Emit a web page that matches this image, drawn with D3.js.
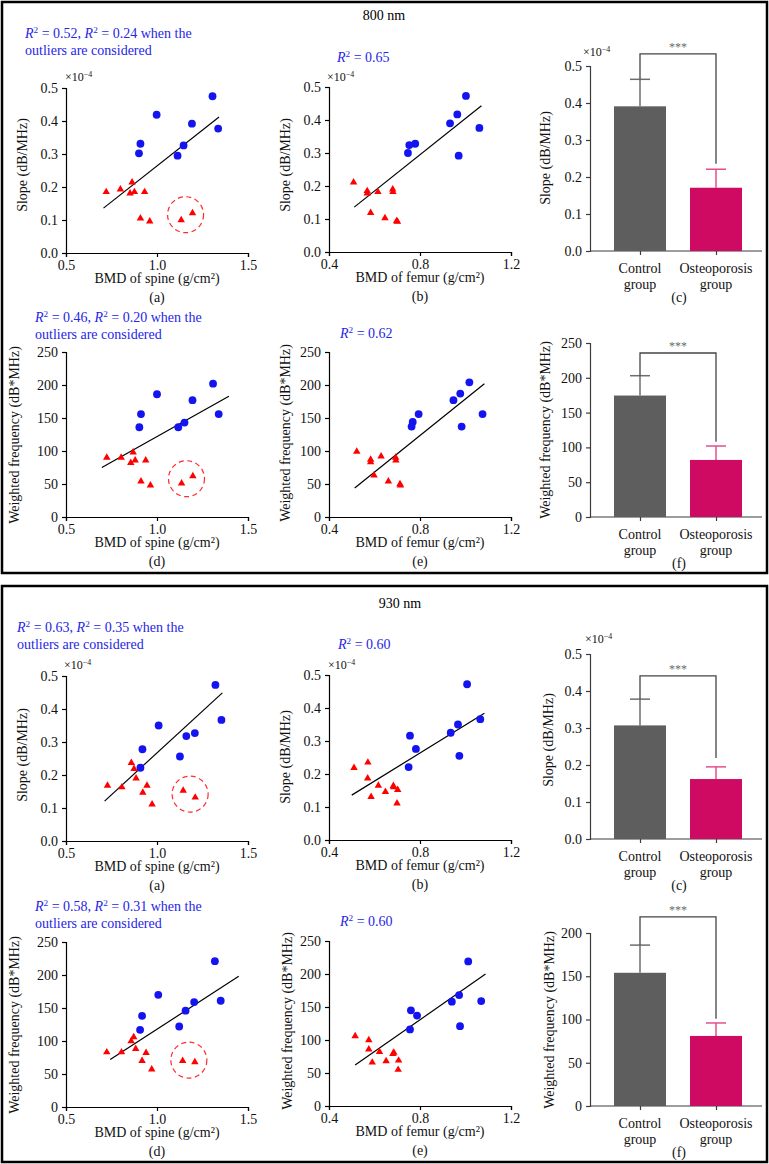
<!DOCTYPE html>
<html>
<head>
<meta charset="utf-8">
<script src="https://cdn.jsdelivr.net/npm/d3@7"></script>
<style>
body { margin: 0; background: #fff; }
svg text { font-family: "Liberation Serif", "Times New Roman", serif; }
</style>
</head>
<body>
<svg id="fig" width="769" height="1164"></svg>
<script>
// ---- values ----
// 800 nm
var spineSlope800Ctrl = [[1.305,0.475],[0.998,0.419],[1.192,0.392],[1.336,0.377],[0.909,0.331],[1.146,0.326],[0.901,0.302],[1.113,0.295]];
var spineSlope800Osteo = [[0.721,0.185],[0.799,0.193],[0.863,0.214],[0.852,0.181],[0.876,0.185],[0.932,0.185],[0.909,0.105],[0.960,0.096],[1.133,0.100],[1.195,0.121]];
var spineSlope800Fit = [[0.706,0.136],[1.341,0.412]];
var spineSlope800Outlier = [1.157,0.116];

var femurSlope800Ctrl = [[1.002,0.473],[0.964,0.417],[0.932,0.390],[1.061,0.376],[0.779,0.328],[0.753,0.324],[0.747,0.300],[0.970,0.292]];
var femurSlope800Osteo = [[0.508,0.211],[0.568,0.185],[0.568,0.178],[0.615,0.182],[0.680,0.190],[0.681,0.182],[0.583,0.119],[0.646,0.103],[0.697,0.094],[0.701,0.092]];
var femurSlope800Fit = [[0.511,0.136],[1.070,0.443]];

var spineFreq800Ctrl = [[1.308,202],[1.0,186],[1.195,177],[0.912,156],[1.339,156],[1.151,143],[0.903,136],[1.117,136]];
var spineFreq800Osteo = [[0.724,90],[0.803,90],[0.869,98],[0.856,82],[0.880,86],[0.938,86],[0.912,54],[0.964,48],[1.135,51],[1.197,62]];
var spineFreq800Fit = [[0.697,75],[1.395,183]];
var spineFreq800Outlier = [1.162,58];

var femurFreq800Ctrl = [[1.017,204],[0.977,187],[0.947,177],[1.075,156],[0.794,156],[0.768,144],[0.763,137],[0.983,137]];
var femurFreq800Osteo = [[0.522,99],[0.583,87],[0.583,83],[0.629,92],[0.693,90],[0.694,86],[0.598,63],[0.661,54],[0.712,50],[0.714,48]];
var femurFreq800Fit = [[0.513,44],[1.083,202]];

// 930 nm
var spineSlope930Ctrl = [[1.321,0.473],[1.354,0.367],[1.009,0.350],[1.208,0.327],[1.161,0.318],[0.920,0.278],[1.126,0.256],[0.909,0.222]];
var spineSlope930Osteo = [[0.859,0.237],[0.874,0.219],[0.885,0.190],[0.728,0.168],[0.807,0.163],[0.945,0.168],[0.922,0.147],[0.973,0.111],[1.144,0.153],[1.210,0.132]];
var spineSlope930Fit = [[0.712,0.121],[1.359,0.449]];
var spineSlope930Outlier = [1.182,0.142];

var femurSlope930Ctrl = [[1.007,0.472],[1.065,0.366],[0.967,0.350],[0.935,0.325],[0.756,0.316],[0.782,0.276],[0.973,0.255],[0.750,0.221]];
var femurSlope930Osteo = [[0.510,0.219],[0.571,0.235],[0.570,0.187],[0.617,0.165],[0.683,0.164],[0.684,0.160],[0.648,0.146],[0.702,0.152],[0.585,0.131],[0.699,0.111]];
var femurSlope930Fit = [[0.500,0.136],[1.083,0.384]];

var spineFreq930Ctrl = [[1.318,221],[1.007,170],[1.350,161],[1.204,159],[1.157,146],[0.918,138],[1.122,122],[0.907,117]];
var spineFreq930Osteo = [[0.724,83],[0.805,83],[0.858,100],[0.872,106],[0.883,88],[0.940,82],[0.918,70],[0.971,57],[1.141,70],[1.208,68]];
var spineFreq930Fit = [[0.743,72],[1.449,198]];
var spineFreq930Outlier = [1.175,71];

var femurFreq930Ctrl = [[1.012,219],[0.972,168],[0.940,158],[1.069,159],[0.760,145],[0.787,137],[0.976,121],[0.756,116]];
var femurFreq930Osteo = [[0.515,106],[0.575,100],[0.575,86],[0.622,82],[0.685,81],[0.681,79],[0.590,66],[0.651,68],[0.706,69],[0.704,55]];
var femurFreq930Fit = [[0.515,62],[1.088,200]];

// group bars: mean, sd, significance bracket [top, left end, right end]
var groups = ["Control", "Osteoporosis"];
var slope800Mean = [0.391, 0.171], slope800Sd = [0.073, 0.050], slope800Sig = [0.533, 0.464, 0.236];
var freq800Mean = [174.5, 82], freq800Sd = [28.5, 20], freq800Sig = [235.6, 203, 108];
var slope930Mean = [0.307, 0.162], slope930Sd = [0.071, 0.033], slope930Sig = [0.441, 0.378, 0.219];
var freq930Mean = [154, 81], freq930Sd = [32, 15], freq930Sig = [218.6, 186, 101];

// tick values
var spineTicks = [0.5, 1.0, 1.5];
var femurTicks = [0.4, 0.8, 1.2];
var slopeTicks = [0, 0.1, 0.2, 0.3, 0.4, 0.5];
var freqTicks = [0, 50, 100, 150, 200, 250];
var freqTicksShort = [0, 50, 100, 150, 200];

// ---- drawing ----
var svg = d3.select("#fig");
var BLUE = "#1414f0", RED = "#ff0000", R2COL = "#2626e6";
var LAB = 14, TICK = 14;

function richText(g, x, y, str, size, color) { // "R^2" -> italic R + superscript 2, "^-4" -> superscript
    var t = g.append("text").attr("x", x).attr("y", y).attr("font-size", size).attr("fill", color);
    var parts = str.split(/(R\^2|\^-4)/), shift = 0, sup = size * 0.36;
    parts.forEach(function (p) {
        if (!p) return;
        if (p === "R^2") {
            t.append("tspan").attr("font-style", "italic").attr("dy", shift).text("R");
            t.append("tspan").attr("dy", -sup).attr("font-size", size * 0.66).text("2");
            shift = sup;
        } else if (p === "^-4") {
            t.append("tspan").attr("dy", -sup).attr("font-size", size * 0.66).text("\u22124");
            shift = sup;
        } else {
            t.append("tspan").attr("dy", shift).text(p);
            shift = 0;
        }
    });
    return t;
}

function styleAxis(ax, color) {
    ax.attr("font-family", null);
    ax.selectAll("path, line").attr("stroke", color).attr("stroke-width", 1.2);
    ax.selectAll("text").attr("font-size", TICK).attr("fill", "#111");
}

function scatter(o) {
    var g = svg.append("g");
    var x = d3.scaleLinear().domain([o.xTicks[0], o.xTicks[o.xTicks.length - 1]]).range(o.xr);
    var y = d3.scaleLinear().domain([0, o.yTicks[o.yTicks.length - 1]]).range(o.yr);

    var ax = g.append("g").attr("transform", "translate(0," + o.yr[0] + ")")
        .call(d3.axisBottom(x).tickValues(o.xTicks).tickFormat(d3.format(".1f")).tickSizeOuter(0).tickSize(4).tickPadding(3));
    styleAxis(ax, "#000");
    var ay = g.append("g").attr("transform", "translate(" + o.xr[0] + ",0)")
        .call(d3.axisLeft(y).tickValues(o.yTicks).tickFormat(d3.format(o.yFmt)).tickSizeOuter(0).tickSize(4).tickPadding(4));
    styleAxis(ay, "#000");

    g.append("line") // fitted line
        .attr("x1", x(o.fit[0][0])).attr("y1", y(o.fit[0][1]))
        .attr("x2", x(o.fit[1][0])).attr("y2", y(o.fit[1][1]))
        .attr("stroke", "#000").attr("stroke-width", 1.2);

    g.selectAll(".ctrl").data(o.ctrl).enter().append("circle")
        .attr("cx", d => x(d[0])).attr("cy", d => y(d[1])).attr("r", 3.9).attr("fill", BLUE);

    g.selectAll(".osteo").data(o.osteo).enter().append("path")
        .attr("d", d3.symbol().type(d3.symbolTriangle).size(24))
        .attr("transform", d => "translate(" + x(d[0]) + "," + y(d[1]) + ")")
        .attr("fill", RED);

    if (o.outlier) {
        g.append("circle").attr("cx", x(o.outlier[0])).attr("cy", y(o.outlier[1])).attr("r", 18)
            .attr("fill", "none").attr("stroke", "#ff2a2a").attr("stroke-width", 1.2).attr("stroke-dasharray", "5,3.5");
    }

    var cx = (o.xr[0] + o.xr[1]) / 2;
    g.append("text").attr("x", cx).attr("y", o.yr[0] + 30).attr("text-anchor", "middle").attr("font-size", LAB).attr("fill", "#111").text(o.xLabel);
    g.append("text").attr("x", cx).attr("y", o.yr[0] + 49).attr("text-anchor", "middle").attr("font-size", LAB).attr("fill", "#111").text(o.tag);
    g.append("text").attr("transform", "translate(" + o.yLab[0] + "," + o.yLab[1] + ") rotate(-90)")
        .attr("text-anchor", "middle").attr("dominant-baseline", "central").attr("font-size", LAB).attr("fill", "#111").text(o.yLabel);

    o.r2.forEach(function (line, i) { richText(g, o.r2At[0], o.r2At[1] + i * 17, line, 14, R2COL); });
    if (o.exp) richText(g, o.exp[0], o.exp[1], "\u00d710^-4", 12, "#111");
}

function bars(o) {
    var g = svg.append("g");
    var x = d3.scalePoint().domain(groups).range([640, 716]);
    var y = d3.scaleLinear().domain([0, o.yTicks[o.yTicks.length - 1]]).range(o.yr);
    var bw = 52, axCol = "#3c3c3c";

    var ax = g.append("g").attr("transform", "translate(0," + o.yr[0] + ")")
        .call(d3.axisBottom(x).tickSize(4).tickFormat(""));
    ax.select(".domain").attr("d", "M590,0H762");
    ax.selectAll("path, line").attr("stroke", axCol).attr("stroke-width", 1.2);
    var ay = g.append("g").attr("transform", "translate(590,0)")
        .call(d3.axisLeft(y).tickValues(o.yTicks).tickFormat(d3.format(o.yFmt)).tickSizeOuter(0).tickSize(4).tickPadding(4));
    styleAxis(ay, axCol);

    var cols = ["#5e5e5e", "#cf0a63"], errCols = ["#6e6e6e", "#e2508c"];
    groups.forEach(function (gname, i) {
        var cx = x(gname), top = y(o.mean[i] + o.sd[i]);
        g.append("line").attr("x1", cx).attr("x2", cx).attr("y1", top).attr("y2", y(o.mean[i]))
            .attr("stroke", errCols[i]).attr("stroke-width", 1.5);
        g.append("line").attr("x1", cx - 10).attr("x2", cx + 10).attr("y1", top).attr("y2", top)
            .attr("stroke", errCols[i]).attr("stroke-width", 1.5);
        g.append("rect").attr("x", cx - bw / 2).attr("width", bw)
            .attr("y", y(o.mean[i])).attr("height", y(0) - y(o.mean[i])).attr("fill", cols[i]);
        g.append("text").attr("x", cx).attr("y", o.yr[0] + 22).attr("text-anchor", "middle").attr("font-size", LAB).attr("fill", "#111").text(gname);
        g.append("text").attr("x", cx).attr("y", o.yr[0] + 38).attr("text-anchor", "middle").attr("font-size", LAB).attr("fill", "#111").text("group");
    });

    var xl = x(groups[0]), xr = x(groups[1]);
    g.append("path")
        .attr("d", "M" + xl + "," + y(o.sig[1]) + "V" + y(o.sig[0]) + "H" + xr + "V" + y(o.sig[2]))
        .attr("fill", "none").attr("stroke", "#444").attr("stroke-width", 1.3);
    g.append("text").attr("x", (xl + xr) / 2).attr("y", y(o.sig[0]) - 3).attr("text-anchor", "middle")
        .attr("font-size", 12).attr("fill", "#6a6a6a").text("***");

    g.append("text").attr("x", 679).attr("y", o.yr[0] + 51).attr("text-anchor", "middle").attr("font-size", LAB).attr("fill", "#111").text(o.tag);
    g.append("text").attr("transform", "translate(" + o.yLab[0] + "," + o.yLab[1] + ") rotate(-90)")
        .attr("text-anchor", "middle").attr("dominant-baseline", "central").attr("font-size", LAB).attr("fill", "#111").text(o.yLabel);
    if (o.exp) richText(g, o.exp[0], o.exp[1], "\u00d710^-4", 12, "#111");
}

// frames and titles
svg.append("rect").attr("x", 2).attr("y", 2).attr("width", 765).attr("height", 571).attr("fill", "none").attr("stroke", "#000").attr("stroke-width", 2.5);
svg.append("rect").attr("x", 2).attr("y", 586).attr("width", 765).attr("height", 576).attr("fill", "none").attr("stroke", "#000").attr("stroke-width", 2.5);
svg.append("text").attr("x", 384).attr("y", 20).attr("text-anchor", "middle").attr("font-size", 14).text("800 nm");
svg.append("text").attr("x", 400).attr("y", 608).attr("text-anchor", "middle").attr("font-size", 14).text("930 nm");

var spineLab = "BMD of spine (g/cm\u00b2)", femurLab = "BMD of femur (g/cm\u00b2)";
var slopeLab = "Slope (dB/MHz)", freqLab = "Weighted frequency (dB*MHz)";

// 800 nm
scatter({ xr: [66, 248], yr: [253, 88], xTicks: spineTicks, yTicks: slopeTicks, yFmt: ".1f",
    ctrl: spineSlope800Ctrl, osteo: spineSlope800Osteo, fit: spineSlope800Fit, outlier: spineSlope800Outlier,
    xLabel: spineLab, yLabel: slopeLab, yLab: [22, 165], tag: "(a)",
    r2: ["R^2 = 0.52, R^2 = 0.24 when the", "outliers are considered"], r2At: [25, 38], exp: [65, 81] });
scatter({ xr: [329, 511], yr: [252, 87], xTicks: femurTicks, yTicks: slopeTicks, yFmt: ".1f",
    ctrl: femurSlope800Ctrl, osteo: femurSlope800Osteo, fit: femurSlope800Fit,
    xLabel: femurLab, yLabel: slopeLab, yLab: [285, 165], tag: "(b)",
    r2: ["R^2 = 0.65"], r2At: [337, 62], exp: [327, 81] });
bars({ yr: [251, 66], yTicks: slopeTicks, yFmt: ".1f", mean: slope800Mean, sd: slope800Sd, sig: slope800Sig,
    yLabel: slopeLab, yLab: [545, 158], tag: "(c)", exp: [583, 56] });

scatter({ xr: [66, 248], yr: [517, 352], xTicks: spineTicks, yTicks: freqTicks, yFmt: "d",
    ctrl: spineFreq800Ctrl, osteo: spineFreq800Osteo, fit: spineFreq800Fit, outlier: spineFreq800Outlier,
    xLabel: spineLab, yLabel: freqLab, yLab: [14, 435], tag: "(d)",
    r2: ["R^2 = 0.46, R^2 = 0.20 when the", "outliers are considered"], r2At: [35, 322] });
scatter({ xr: [329, 511], yr: [517, 352], xTicks: femurTicks, yTicks: freqTicks, yFmt: "d",
    ctrl: femurFreq800Ctrl, osteo: femurFreq800Osteo, fit: femurFreq800Fit,
    xLabel: femurLab, yLabel: freqLab, yLab: [285, 433], tag: "(e)",
    r2: ["R^2 = 0.62"], r2At: [340, 338] });
bars({ yr: [517, 343], yTicks: freqTicks, yFmt: "d", mean: freq800Mean, sd: freq800Sd, sig: freq800Sig,
    yLabel: freqLab, yLab: [545, 430], tag: "(f)" });

// 930 nm
scatter({ xr: [66, 248], yr: [841, 676], xTicks: spineTicks, yTicks: slopeTicks, yFmt: ".1f",
    ctrl: spineSlope930Ctrl, osteo: spineSlope930Osteo, fit: spineSlope930Fit, outlier: spineSlope930Outlier,
    xLabel: spineLab, yLabel: slopeLab, yLab: [22, 755], tag: "(a)",
    r2: ["R^2 = 0.63, R^2 = 0.35 when the", "outliers are considered"], r2At: [17, 632], exp: [64, 669] });
scatter({ xr: [329, 511], yr: [840, 675], xTicks: femurTicks, yTicks: slopeTicks, yFmt: ".1f",
    ctrl: femurSlope930Ctrl, osteo: femurSlope930Osteo, fit: femurSlope930Fit,
    xLabel: femurLab, yLabel: slopeLab, yLab: [285, 757], tag: "(b)",
    r2: ["R^2 = 0.60"], r2At: [338, 649], exp: [328, 669] });
bars({ yr: [839, 654], yTicks: slopeTicks, yFmt: ".1f", mean: slope930Mean, sd: slope930Sd, sig: slope930Sig,
    yLabel: slopeLab, yLab: [548, 740], tag: "(c)", exp: [585, 643] });

scatter({ xr: [66, 248], yr: [1107, 942], xTicks: spineTicks, yTicks: freqTicks, yFmt: "d",
    ctrl: spineFreq930Ctrl, osteo: spineFreq930Osteo, fit: spineFreq930Fit, outlier: spineFreq930Outlier,
    xLabel: spineLab, yLabel: freqLab, yLab: [14, 1025], tag: "(d)",
    r2: ["R^2 = 0.58, R^2 = 0.31 when the", "outliers are considered"], r2At: [35, 911] });
scatter({ xr: [329, 511], yr: [1106, 941], xTicks: femurTicks, yTicks: freqTicks, yFmt: "d",
    ctrl: femurFreq930Ctrl, osteo: femurFreq930Osteo, fit: femurFreq930Fit,
    xLabel: femurLab, yLabel: freqLab, yLab: [287, 1021], tag: "(e)",
    r2: ["R^2 = 0.60"], r2At: [340, 926] });
bars({ yr: [1106, 933], yTicks: freqTicksShort, yFmt: "d", mean: freq930Mean, sd: freq930Sd, sig: freq930Sig,
    yLabel: freqLab, yLab: [549, 1020], tag: "(f)" });
</script>
</body>
</html>
